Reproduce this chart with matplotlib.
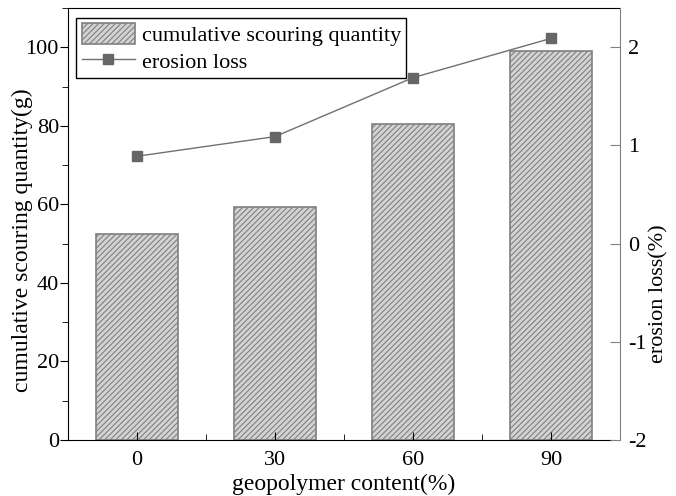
import numpy as np
import matplotlib.pyplot as plt
from matplotlib.ticker import MultipleLocator

plt.rcParams['font.family'] = ['Liberation Serif', 'DejaVu Serif']
plt.rcParams['axes.unicode_minus'] = False
plt.rcParams['hatch.color'] = '#808080'
plt.rcParams['hatch.linewidth'] = 0.8

content = [0, 30, 60, 90]
scouring = [52.5, 59.2, 80.4, 99.0]
erosion = [0.89, 1.09, 1.69, 2.09]

fig = plt.figure(figsize=(6.76, 4.96), dpi=100)
ax = fig.add_axes([0.1006, 0.1129, 0.8164, 0.8710])

bars = ax.bar(content, scouring, width=18, color='#d3d3d3', edgecolor='#808080',
              hatch='//////', linewidth=1.2, label='cumulative scouring quantity')
ax.set_xlim(-15, 105)
ax.set_ylim(0, 110)
ax.set_xticks(content)
ax.xaxis.set_minor_locator(MultipleLocator(15))
ax.yaxis.set_major_locator(MultipleLocator(20))
ax.yaxis.set_minor_locator(MultipleLocator(10))
ax.tick_params(axis='x', which='both', direction='in', labelsize=16, pad=8)
ax.tick_params(axis='x', which='major', length=6)
ax.tick_params(axis='x', which='minor', length=4)
ax.tick_params(axis='y', which='both', direction='out', labelsize=16, pad=0.5)
ax.tick_params(axis='y', which='major', length=6)
ax.tick_params(axis='y', which='minor', length=4)
ax.spines['bottom'].set_bounds(-15, 103.3)
ax.spines['right'].set_visible(False)
ax.set_xlabel('geopolymer content(%)', fontsize=17, labelpad=3)
ax.set_ylabel('cumulative scouring quantity(g)', fontsize=17)
ax.yaxis.set_label_coords(-0.063, 0.463)

ax2 = ax.twinx()
line, = ax2.plot(content, erosion, color='#707070', linewidth=1, marker='s',
                 markersize=7, markerfacecolor='#666666', markeredgecolor='#666666',
                 label='erosion loss')
ax2.set_ylim(-2, 2.4)
ax2.yaxis.set_major_locator(MultipleLocator(1))
ax2.tick_params(axis='y', direction='in', length=7, color='#808080', labelsize=16, pad=6)
for s in ['left', 'bottom', 'top']:
    ax2.spines[s].set_visible(False)
ax2.spines['right'].set_color('#808080')
ax2.set_ylabel('erosion loss(%)', fontsize=16)
ax2.yaxis.set_label_coords(1.054, 0.338)

leg = ax.legend([bars, line], ['cumulative scouring quantity', 'erosion loss'],
                loc='upper left', bbox_to_anchor=(0.0145, 0.977), fontsize=16,
                fancybox=False, framealpha=1, edgecolor='black',
                handlelength=2.4, handleheight=1.05, handletextpad=0.3,
                borderpad=0.25, labelspacing=0.15, borderaxespad=0)
leg.get_frame().set_linewidth(1)
leg.set_zorder(5)

fig.savefig('out.png', dpi=100)
